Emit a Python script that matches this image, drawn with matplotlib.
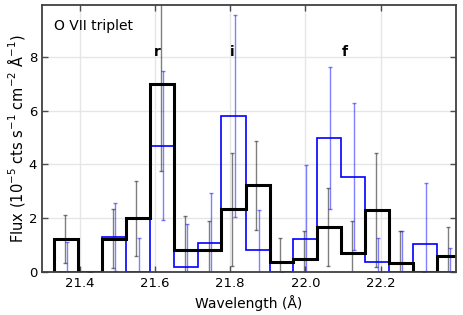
import matplotlib
matplotlib.use("Agg")
import matplotlib.pyplot as plt
import numpy as np

# bin edges (Angstrom)
edges = [21.332, 21.397, 21.459, 21.522, 21.586, 21.651, 21.715, 21.777, 21.841,
         21.905, 21.967, 22.032, 22.094, 22.158, 22.222, 22.286, 22.350, 22.414]

# black spectrum + errors
black = [1.23, 0.0, 1.24, 2.0, 7.0, 0.83, 0.80, 2.33, 3.22, 0.37, 0.48, 1.67, 0.70, 2.31, 0.32, 0.0, 0.60]
black_err = [0.90, 0.0, 1.10, 1.39, 3.25, 1.26, 1.11, 2.10, 1.67, 0.88, 1.06, 1.44, 1.19, 2.12, 1.22, 0.0, 1.09]

# blue spectrum + errors
blue = [0.0, 0.0, 1.30, 0.0, 4.70, 0.20, 1.07, 5.80, 0.80, 0.0, 1.22, 4.98, 3.55, 0.36, 0.0, 1.04, 0.0]
blue_err = [1.10, 0.0, 1.28, 1.25, 2.77, 1.57, 1.88, 3.75, 1.50, 0.0, 2.77, 2.64, 2.72, 0.89, 1.52, 2.28, 0.89]

# line ids
line_names = ["r", "i", "f"]
line_waves = [21.606, 21.805, 22.105]

edges = np.array(edges)
centers = 0.5 * (edges[:-1] + edges[1:])
shift = 0.003

fig = plt.figure(figsize=(4.63, 3.15), dpi=100)
ax = fig.add_axes([0.0907, 0.1365, 0.894, 0.8475])

ax.stairs(blue, edges, color="blue", lw=1.2, zorder=3)
ax.stairs(black, edges, color="black", lw=2.2, zorder=4)

ax.errorbar(centers + shift, blue, yerr=blue_err, fmt="none", ecolor="blue",
            alpha=0.5, elinewidth=1, capsize=1.2, capthick=1, zorder=2)
ax.errorbar(centers - shift, black, yerr=black_err, fmt="none", ecolor="black",
            alpha=0.5, elinewidth=1, capsize=1.2, capthick=1, zorder=2)

for name, w in zip(line_names, line_waves):
    ax.text(w, 8.2, name, ha="center", va="center", fontsize=10, fontweight="bold")

ax.text(0.03, 0.92, "O VII triplet", transform=ax.transAxes, fontsize=10,
        ha="left", va="center")

ax.set_xlim(21.3, 22.4)
ax.set_ylim(0, 9.93)
ax.set_xticks([21.4, 21.6, 21.8, 22.0, 22.2])
ax.set_yticks([0, 2, 4, 6, 8])
ax.grid(color="#e6e6e6", lw=1)
ax.set_axisbelow(True)
ax.tick_params(direction="in", top=True, right=True, length=4, width=1,
               color="0.3", labelsize=9.5)
for s in ax.spines.values():
    s.set_color("0.25")
    s.set_linewidth(1.3)
    s.set_zorder(5)

ax.set_xlabel("Wavelength (Å)", fontsize=10)
ax.set_ylabel("Flux (10$^{-5}$ cts s$^{-1}$ cm$^{-2}$ Å$^{-1}$)", fontsize=10.5,
              labelpad=1)

fig.savefig("out.png", dpi=100)
